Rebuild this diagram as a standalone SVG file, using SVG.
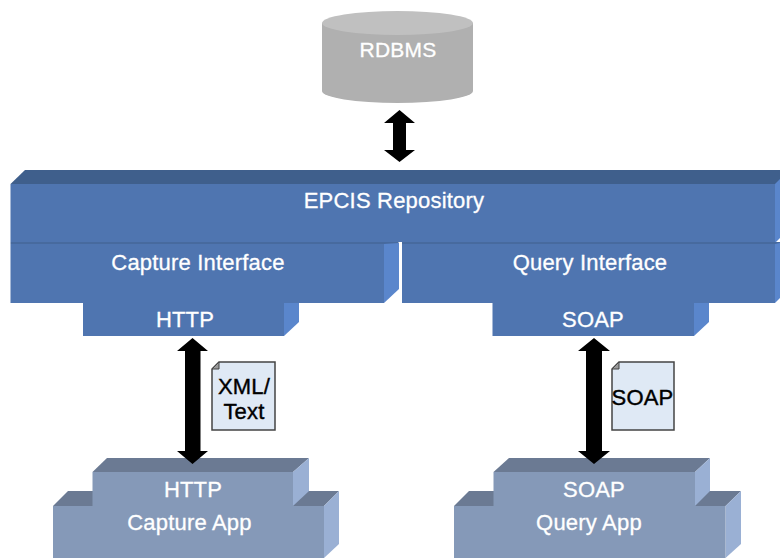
<svg xmlns="http://www.w3.org/2000/svg" width="780" height="558" viewBox="0 0 780 558">
<style>
text{font-family:"Liberation Sans",Arial,sans-serif;font-size:22px;letter-spacing:.2px;text-anchor:middle}
.w{fill:#fff;stroke:#fff;stroke-width:.3}
.k{fill:#000;stroke:#000;stroke-width:.4}
.bf{fill:#4f75b0}.bt{fill:#3f5f8c}.bs{fill:#5a86cc}.seam{fill:#476a9e}
.af{fill:#8599b8}.at{fill:#6b7a93}.as{fill:#9ab0d4}
.doc{fill:#dfe9f5;stroke:#444;stroke-width:1.5}
.fold{fill:#9a9a9a;stroke:#444;stroke-width:1}
</style>
<rect width="780" height="558" fill="#fff"/>
<g id="rdbms">
<path d="M322 23V91A75.500 12 0 0 0 473 91V23Z" fill="#b0b0b0"/>
<ellipse cx="397.500" cy="23" rx="75.500" ry="12" fill="#c0c0c0"/>
<text class="w" x="398" y="57" style="font-size:21px">RDBMS</text>
</g>
<g id="repository">
<polygon class="bt" points="10.500,184 25,170 780,170 780,184"/>
<polygon class="bs" points="775,184 780,179 780,238 775,243"/>
<rect class="bf" x="10.500" y="184" width="764.500" height="58"/>
<text class="w" x="394" y="208">EPCIS Repository</text>
</g>
<g id="capture-interface">
<rect x="10.500" y="242" width="388" height="2" class="seam"/>
<polygon class="bs" points="384,244 399,243 399,289 384,303"/>
<rect class="bf" x="10.500" y="244" width="373.500" height="59"/>
<text class="w" x="198" y="270">Capture Interface</text>
</g>
<g id="query-interface">
<rect x="402" y="242" width="378" height="2" class="seam"/>
<polygon class="bs" points="775,244 780,243 780,298 775,303"/>
<rect class="bf" x="402" y="244" width="373" height="59"/>
<text class="w" x="590" y="270">Query Interface</text>
</g>
<g id="http-server">
<polygon class="bs" points="284,303 299,303 299,322 284,336"/>
<rect class="bf" x="83" y="303" width="201" height="33"/>
<text class="w" x="185" y="327">HTTP</text>
</g>
<g id="soap-server">
<polygon class="bs" points="694,303 709,303 709,322 694,336"/>
<rect class="bf" x="492.500" y="303" width="201.500" height="33"/>
<text class="w" x="593" y="327">SOAP</text>
</g>
<g id="capture-app">
<polygon class="at" points="53,506 68,491 339,491 324,506"/>
<polygon class="as" points="324,506 339,491 339,544 324,558"/>
<rect class="af" x="53" y="506" width="271" height="52"/>
<text class="w" x="189.500" y="530">Capture App</text>
</g>
<g id="http-client">
<polygon class="at" points="92.500,472 107,458 309,458 293,472"/>
<polygon class="as" points="293,472 309,458 309,491 293,506"/>
<rect class="af" x="92.500" y="472" width="200.500" height="34"/>
<text class="w" x="193" y="497">HTTP</text>
</g>
<g id="query-app">
<polygon class="at" points="454,506 469,491 741,491 725.500,506"/>
<polygon class="as" points="725.500,506 741,491 741,544 725.500,558"/>
<rect class="af" x="454" y="506" width="271.500" height="52"/>
<text class="w" x="589" y="530">Query App</text>
</g>
<g id="soap-client">
<polygon class="at" points="493.500,472 509,458 710,458 695,472"/>
<polygon class="as" points="695,472 710,458 710,491 695,506"/>
<rect class="af" x="493.500" y="472" width="201.500" height="34"/>
<text class="w" x="594" y="497">SOAP</text>
</g>
<g id="connectors" fill="#000">
<polygon points="399.500,110 415,123 406,123 406,150 415,150 399.500,162 384,150 393,150 393,123 384,123"/>
<polygon points="192.500,338 208,351 200.500,351 200.500,451 208,451 192.500,464 177,451 185,451 185,351 177,351"/>
<polygon points="594,338 610,351 602,351 602,451 610,451 594,464 578,451 586,451 586,351 578,351"/>
</g>
<g id="doc-xml">
<path class="doc" d="M219 362H275V430H212V369Z"/>
<path class="fold" d="M219 362V369H212Z"/>
<text class="k" x="244" y="394">XML/</text>
<text class="k" x="244" y="419">Text</text>
</g>
<g id="doc-soap">
<path class="doc" d="M619 362H674V430H612V369Z"/>
<path class="fold" d="M619 362V369H612Z"/>
<text class="k" x="642.500" y="405">SOAP</text>
</g>
</svg>
